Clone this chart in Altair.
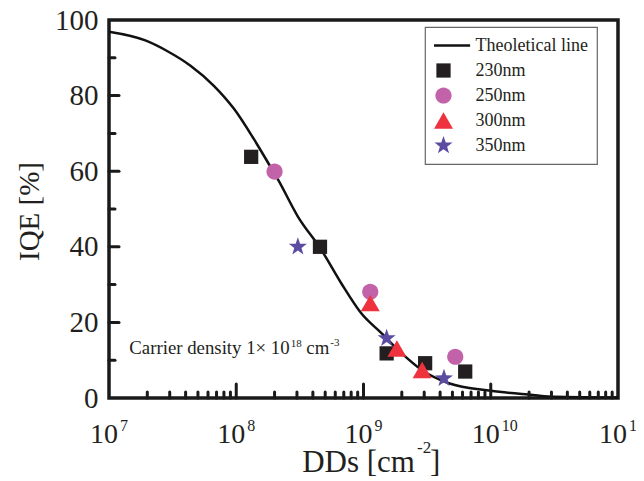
import altair as alt
import pandas as pd

SERIF = "Liberation Serif"
TXT = "#231f20"

# Theoretical line
line_dd = [1.0e7, 1.93e7, 2.86e7, 4.37e7, 6.67e7, 9.6e7, 1.37e8, 1.87e8, 2.12e8,
           3.05e8, 4.66e8, 6.7e8, 9.6e8, 1.39e9, 2.0e9, 2.87e9, 4.68e9, 1.0e10,
           2.14e10, 3.16e10, 1.0e11]
line_iqe = [96.9, 94.6, 91.8, 87.9, 82.6, 76.5, 68.6, 61.0, 57.9,
            48.0, 39.2, 30.3, 22.4, 17.1, 11.8, 7.4, 3.9, 1.9,
            0.8, 0.3, 0.1]

# Measured points
dd_230 = [1.31e8, 4.55e8, 1.52e9, 3.05e9, 6.3e9]
iqe_230 = [63.8, 40.0, 11.8, 9.2, 7.0]
dd_250 = [2.0e8, 1.13e9, 5.26e9]
iqe_250 = [59.9, 28.1, 10.9]
dd_300 = [1.13e9, 1.83e9, 2.89e9]
iqe_300 = [25.1, 13.1, 7.4]
dd_350 = [3.05e8, 1.52e9, 4.29e9]
iqe_350 = [40.0, 15.8, 5.2]

series_names = ["Theoletical line", "230nm", "250nm", "300nm", "350nm"]
series_colors = ["#111111", "#231f20", "#c262a9", "#ee333e", "#5b4ca2"]

# Axis ticks / labels
x_exps = [7, 8, 9, 10, 11]
x_major = [1e8, 1e9, 1e10]
x_minor = [m * 10 ** e for e in (7, 8, 9, 10) for m in range(2, 10)]
y_labels = [0, 20, 40, 60, 80, 100]
y_major = [20, 40, 60, 80]
y_minor = [10, 30, 50, 70, 90]

# Annotation
note_x = [1.445e7]
note_y = [11.6]

W, H = 509, 378
SYM = 361

xscale = alt.Scale(type="log", domain=[1e7, 1e11], nice=False)
yscale = alt.Scale(domain=[0, 100], nice=False)

yaxis = alt.Axis(values=y_labels, labelFont=SERIF, labelFontSize=29,
                 labelColor=TXT, labelPadding=11, ticks=False, tickSize=0,
                 domain=False, grid=False, title="IQE [%]",
                 titleFont=SERIF, titleFontSize=29, titleFontWeight="normal",
                 titleColor=TXT, titleX=-80, titleY=H / 2 + 2, titleAngle=270,
                 titleAlign="center", titleBaseline="middle")

star = ("M0,-1L0.235,-0.324L0.951,-0.309L0.38,0.124L0.588,0.809L0,0.4"
        "L-0.588,0.809L-0.38,0.124L-0.951,-0.309L-0.235,-0.324Z")
square = "M-0.75,-0.75L0.75,-0.75L0.75,0.75L-0.75,0.75Z"
circle = "M-0.85,0A0.85,0.85 0 1,0 0.85,0A0.85,0.85 0 1,0 -0.85,0Z"
line_sym = "M-1,-0.13L2.8,-0.13L2.8,0.13L-1,0.13Z"

line_df = pd.DataFrame({"dd": line_dd, "iqe": line_iqe})

rows = []
for name, dds, vals in [("230nm", dd_230, iqe_230), ("250nm", dd_250, iqe_250),
                        ("300nm", dd_300, iqe_300), ("350nm", dd_350, iqe_350)]:
    for d, v in zip(dds, vals):
        rows.append({"dd": d, "iqe": v, "series": name})
pts_df = pd.DataFrame(rows)


def ypos(field):
    return alt.Y(field, scale=yscale, axis=yaxis)


line = alt.Chart(line_df).mark_line(color="#111111", strokeWidth=2.5,
                                    interpolate="monotone").encode(
    x=alt.X("dd:Q", scale=xscale, axis=None),
    y=ypos("iqe:Q"),
)

points = alt.Chart(pts_df).mark_point(filled=True, opacity=1, size=SYM).encode(
    x=alt.X("dd:Q", scale=xscale, axis=None),
    y=ypos("iqe:Q"),
    color=alt.Color("series:N", scale=alt.Scale(domain=series_names, range=series_colors),
                    legend=alt.Legend(title=None, orient="none", legendX=316, legendY=7,
                                      padding=9, symbolSize=SYM,
                                      labelFont=SERIF, labelFontSize=18, labelColor=TXT,
                                      labelOffset=22.5, rowPadding=6, symbolStrokeWidth=0,
                                      symbolOpacity=1)),
    shape=alt.Shape("series:N", scale=alt.Scale(domain=series_names,
                                                range=[line_sym, square, circle, "triangle-up", star])),
)

xtick_major = alt.Chart(pd.DataFrame({"v": x_major})).mark_rule(
    strokeWidth=3, strokeCap="round", color="#1a1a1a").encode(
    x=alt.X("v:Q", scale=xscale, axis=None), y=alt.value(H), y2=alt.value(H - 14))
xtick_minor = alt.Chart(pd.DataFrame({"v": x_minor})).mark_rule(
    strokeWidth=3, strokeCap="round", color="#1a1a1a").encode(
    x=alt.X("v:Q", scale=xscale, axis=None), y=alt.value(H), y2=alt.value(H - 6))
ytick_major = alt.Chart(pd.DataFrame({"v": y_major})).mark_rule(
    strokeWidth=3, strokeCap="round", color="#1a1a1a").encode(
    y=ypos("v:Q"), x=alt.value(0), x2=alt.value(10))
ytick_minor = alt.Chart(pd.DataFrame({"v": y_minor})).mark_rule(
    strokeWidth=3, strokeCap="round", color="#1a1a1a").encode(
    y=ypos("v:Q"), x=alt.value(0), x2=alt.value(6))

lab_df = pd.DataFrame({"v": [10.0 ** e for e in x_exps], "e": [str(e) for e in x_exps]})
xlab_base = alt.Chart(lab_df).mark_text(
    text="10", align="right", dx=9, baseline="alphabetic", font=SERIF, fontSize=28,
    color=TXT).encode(x=alt.X("v:Q", scale=xscale, axis=None), y=alt.value(H + 45))
xlab_exp = alt.Chart(lab_df).mark_text(
    align="left", dx=11, baseline="alphabetic", font=SERIF, fontSize=16,
    color=TXT).encode(x=alt.X("v:Q", scale=xscale, axis=None), y=alt.value(H + 33),
                      text="e:N")

title_main = alt.Chart(pd.DataFrame({"t": ["DDs [cm"]})).mark_text(
    align="right", baseline="alphabetic", font=SERIF, fontSize=31, color=TXT).encode(
    text="t:N", x=alt.value(306), y=alt.value(H + 74))
title_sup = alt.Chart(pd.DataFrame({"t": ["-2"]})).mark_text(
    align="left", baseline="alphabetic", font=SERIF, fontSize=17, color=TXT).encode(
    text="t:N", x=alt.value(308), y=alt.value(H + 55))
title_end = alt.Chart(pd.DataFrame({"t": ["]"]})).mark_text(
    align="left", baseline="alphabetic", font=SERIF, fontSize=31, color=TXT).encode(
    text="t:N", x=alt.value(321), y=alt.value(H + 74))

note_df = pd.DataFrame({"x": note_x, "y": note_y})
note_enc = dict(x=alt.X("x:Q", scale=xscale, axis=None), y=ypos("y:Q"))
note1 = alt.Chart(note_df).mark_text(text="Carrier density 1\u00d7 10", align="left",
                                     baseline="alphabetic", font=SERIF, fontSize=18.8,
                                     color=TXT).encode(**note_enc)
note2 = alt.Chart(note_df).mark_text(text="18", align="left", dx=161.5, dy=-7.5,
                                     baseline="alphabetic", font=SERIF, fontSize=11,
                                     color=TXT).encode(**note_enc)
note3 = alt.Chart(note_df).mark_text(text="cm", align="left", dx=177,
                                     baseline="alphabetic", font=SERIF, fontSize=18.8,
                                     color=TXT).encode(**note_enc)
note4 = alt.Chart(note_df).mark_text(text="-3", align="left", dx=201, dy=-8.5,
                                     baseline="alphabetic", font=SERIF, fontSize=11,
                                     color=TXT).encode(**note_enc)

chart = alt.layer(
    line, xtick_major, xtick_minor, ytick_major, ytick_minor, points,
    xlab_base, xlab_exp, title_main, title_sup, title_end,
    note1, note2, note3, note4,
).resolve_scale(
    color="shared", shape="shared"
).properties(
    width=W, height=H,
    background="white",
    autosize=alt.AutoSizeParams(type="none"),
    padding={"left": 101, "top": 12, "right": 18, "bottom": 80},
).configure_view(
    stroke="#1a1a1a", strokeWidth=3.5
).configure_legend(
    strokeColor="#666666", strokeWidth=1.2
)

chart.save("out.html", embed_options={"renderer": "svg", "actions": False})
